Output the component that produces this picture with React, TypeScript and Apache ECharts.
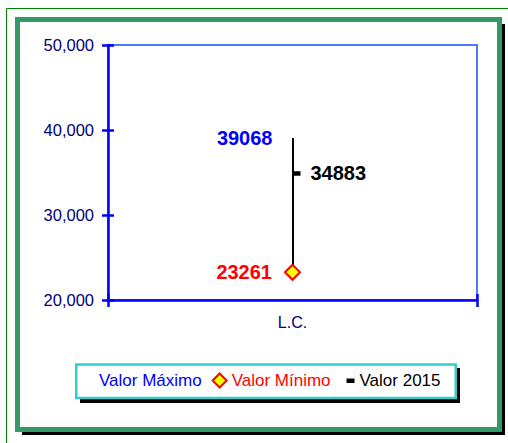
import React, { useEffect, useRef } from "react";
import * as echarts from "echarts";

const categories = ["L.C."];
const seriesNames = ["Valor Máximo", "Valor Mínimo", "Valor 2015"];
const maxValues = [39068];
const minValues = [23261];
const values2015 = [34883];
const yTicks = [20000, 30000, 40000, 50000];

const FONT = "'Liberation Sans', Arial, sans-serif";
const AXIS_BLUE = "#0000ff";
const NAVY = "#000080";

export default function App() {
  const ref = useRef<HTMLDivElement>(null);

  useEffect(() => {
    document.body.style.margin = "0";
    if (!ref.current) return;
    const chart = echarts.init(ref.current, undefined, { renderer: "svg" });
    const yMin = yTicks[0];
    const yMax = yTicks[yTicks.length - 1];
    const yInterval = yTicks[1] - yTicks[0];
    const fmt = (v: number) => v.toLocaleString("en-US");
    const valOf = (p: any) => (Array.isArray(p.value) ? p.value[1] : p.value);

    const option: any = {
      animation: false,
      textStyle: { fontFamily: FONT },
      graphic: [
        {
          type: "rect",
          z: -20,
          shape: { x: 6.5, y: 8.5, width: 600, height: 600 },
          style: { fill: "none", stroke: "#008000", lineWidth: 1 },
        },
        {
          type: "rect",
          z: -19,
          shape: { x: 22, y: 24, width: 483, height: 411 },
          style: { fill: "#000000" },
        },
        {
          type: "rect",
          z: -18,
          shape: { x: 17.5, y: 19.5, width: 482, height: 410 },
          style: { fill: "#ffffff", stroke: "#339966", lineWidth: 5 },
        },
        {
          type: "rect",
          z: -17,
          shape: { x: 80, y: 368, width: 380, height: 35 },
          style: { fill: "#000000" },
        },
        {
          type: "rect",
          z: -16,
          shape: { x: 76.25, y: 364.5, width: 379.5, height: 33.5 },
          style: { fill: "#ffffff", stroke: "#33cccc", lineWidth: 2.5 },
        },
      ],
      grid: {
        left: 108,
        top: 45,
        right: 31,
        bottom: 143,
        show: true,
        borderColor: "#4d79ff",
        borderWidth: 2,
        backgroundColor: "transparent",
      },
      legend: {
        left: 80,
        top: 372,
        padding: 0,
        itemWidth: 14,
        itemHeight: 14,
        itemGap: 10,
        selectedMode: false,
        textStyle: { fontSize: 17, fontFamily: FONT },
        data: [
          { name: seriesNames[0], icon: "none", textStyle: { color: "#0000ff" } },
          {
            name: seriesNames[1],
            icon: "diamond",
            itemStyle: { color: "#ffff00", borderColor: "#ff0000", borderWidth: 2, opacity: 1 },
            textStyle: { color: "#ff0000" },
          },
          {
            name: seriesNames[2],
            icon: "path://M0 0ZM14 14ZM6 5H14V9.5H6Z",
            itemStyle: { color: "#000000", opacity: 1 },
            textStyle: { color: "#000000" },
          },
        ],
      },
      xAxis: [
        {
          type: "category",
          data: categories,
          boundaryGap: true,
          axisLine: { onZero: false, lineStyle: { color: AXIS_BLUE, width: 2.5 } },
          axisTick: { show: true, length: 7, lineStyle: { color: AXIS_BLUE, width: 2.5 } },
          axisLabel: { color: NAVY, fontSize: 16, margin: 14, fontFamily: FONT },
          splitLine: { show: false },
        },
        {
          type: "category",
          data: categories,
          position: "bottom",
          offset: 0,
          boundaryGap: true,
          axisLine: { show: false, onZero: false },
          axisTick: { show: true, inside: true, length: 6, lineStyle: { color: AXIS_BLUE, width: 2.5 } },
          axisLabel: { show: false },
          splitLine: { show: false },
        },
      ],
      yAxis: [
        {
          type: "value",
          min: yMin,
          max: yMax,
          interval: yInterval,
          axisLine: { show: true, onZero: false, lineStyle: { color: AXIS_BLUE, width: 2.5 } },
          axisTick: { show: true, length: 6, lineStyle: { color: AXIS_BLUE, width: 2.5 } },
          axisLabel: { color: NAVY, fontSize: 16.5, margin: 14, fontFamily: FONT, formatter: fmt },
          splitLine: { show: false },
        },
        {
          type: "value",
          position: "left",
          offset: 0,
          min: yMin,
          max: yMax,
          interval: yInterval,
          axisLine: { show: false, onZero: false },
          axisTick: { show: true, inside: true, length: 6, lineStyle: { color: AXIS_BLUE, width: 2.5 } },
          axisLabel: { show: false },
          splitLine: { show: false },
        },
      ],
      series: [
        {
          name: seriesNames[0],
          type: "scatter",
          data: maxValues,
          symbol: "circle",
          symbolSize: 2,
          itemStyle: { color: "rgba(0,0,0,0)", opacity: 1 },
          label: {
            show: true,
            position: "left",
            distance: 19,
            color: "#0000ff",
            fontWeight: "bold",
            fontSize: 20,
            fontFamily: FONT,
            formatter: valOf,
          },
          markLine: {
            silent: true,
            symbol: ["none", "none"],
            label: { show: false },
            lineStyle: { color: "#000000", width: 2, type: "solid", opacity: 1 },
            data: [
              [
                { coord: [categories[0], maxValues[0]] },
                { coord: [categories[0], minValues[0]] },
              ],
            ],
          },
          z: 2,
        },
        {
          name: seriesNames[1],
          type: "scatter",
          data: minValues,
          symbol: "diamond",
          symbolSize: 15,
          itemStyle: { color: "#ffff00", borderColor: "#ff0000", borderWidth: 2, opacity: 1 },
          label: {
            show: true,
            position: "left",
            distance: 12,
            color: "#ff0000",
            fontWeight: "bold",
            fontSize: 20,
            fontFamily: FONT,
            formatter: valOf,
          },
          z: 5,
        },
        {
          name: seriesNames[2],
          type: "scatter",
          data: values2015,
          symbol: "rect",
          symbolSize: [8, 4.5],
          symbolOffset: [4, 0],
          itemStyle: { color: "#000000", opacity: 1 },
          label: {
            show: true,
            position: "right",
            distance: 10,
            color: "#000000",
            fontWeight: "bold",
            fontSize: 20,
            fontFamily: FONT,
            formatter: valOf,
          },
          z: 5,
        },
      ],
    };
    chart.setOption(option);
    return () => chart.dispose();
  }, []);

  return <div ref={ref} style={{ width: 508, height: 443 }} />;
}
